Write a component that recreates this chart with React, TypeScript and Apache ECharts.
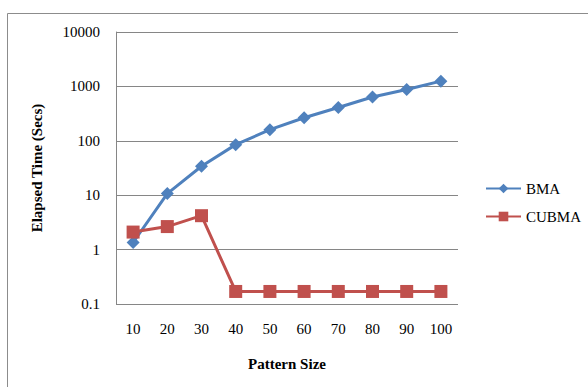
import React, { useEffect, useRef } from "react";
import * as echarts from "echarts";

const categories = ["10", "20", "30", "40", "50", "60", "70", "80", "90", "100"];
const bmaValues = [1.35, 10.7, 34, 85, 160, 265, 410, 640, 880, 1250];
const cubmaValues = [2.1, 2.65, 4.2, 0.17, 0.17, 0.17, 0.17, 0.17, 0.17, 0.17];

const font = "Liberation Serif";
const fs = 15;

export default function App() {
  const ref = useRef<HTMLDivElement>(null);
  useEffect(() => {
    document.body.style.margin = "0";
    const chart = echarts.init(ref.current!, null, { renderer: "svg" });
    chart.setOption({
      animation: false,
      backgroundColor: "#fff",
      textStyle: { fontFamily: font },
      graphic: [
        {
          type: "rect",
          shape: { x: 7.5, y: 13.5, width: 700, height: 500 },
          style: { fill: "none", stroke: "#8c8c8c", lineWidth: 1 },
          silent: true,
          z: -1,
        },
      ],
      grid: { left: 116, top: 32, width: 342, height: 272, containLabel: false },
      legend: {
        orient: "vertical",
        left: 480,
        top: 176,
        itemWidth: 35,
        itemHeight: 12,
        itemGap: 13,
        textStyle: { fontFamily: font, fontSize: fs, color: "#000" },
        data: ["BMA", "CUBMA"],
      },
      xAxis: {
        type: "category",
        data: categories,
        boundaryGap: true,
        name: "Pattern Size",
        nameLocation: "middle",
        nameGap: 52,
        nameTextStyle: { fontFamily: font, fontSize: fs, fontWeight: "bold", color: "#000" },
        axisLine: { show: false },
        axisTick: { show: false },
        axisLabel: { fontFamily: font, fontSize: fs, color: "#000", margin: 17 },
      },
      yAxis: {
        type: "log",
        logBase: 10,
        min: 0.1,
        max: 10000,
        name: "Elapsed Time (Secs)",
        nameLocation: "middle",
        nameGap: 72,
        nameTextStyle: { fontFamily: font, fontSize: fs, fontWeight: "bold", color: "#000" },
        axisLine: { show: true, lineStyle: { color: "#868686", width: 1 } },
        axisTick: { show: false },
        splitLine: { show: true, lineStyle: { color: "#868686", width: 1 } },
        minorTick: { show: false },
        axisLabel: {
          fontFamily: font,
          fontSize: fs,
          color: "#000",
          margin: 16,
          formatter: (v: number) => {
            if (v < 1) return String(Number(v.toFixed(1)));
            return String(Math.round(v));
          },
        },
      },
      series: [
        {
          name: "BMA",
          type: "line",
          data: bmaValues,
          symbol: "diamond",
          symbolSize: 13,
          lineStyle: { color: "#4F81BD", width: 3 },
          itemStyle: { color: "#4F81BD" },
        },
        {
          name: "CUBMA",
          type: "line",
          data: cubmaValues,
          symbol: "rect",
          symbolSize: 13,
          lineStyle: { color: "#C0504D", width: 3 },
          itemStyle: { color: "#C0504D" },
        },
      ],
    });
    return () => chart.dispose();
  }, []);
  return <div ref={ref} style={{ width: 588, height: 387 }} />;
}
